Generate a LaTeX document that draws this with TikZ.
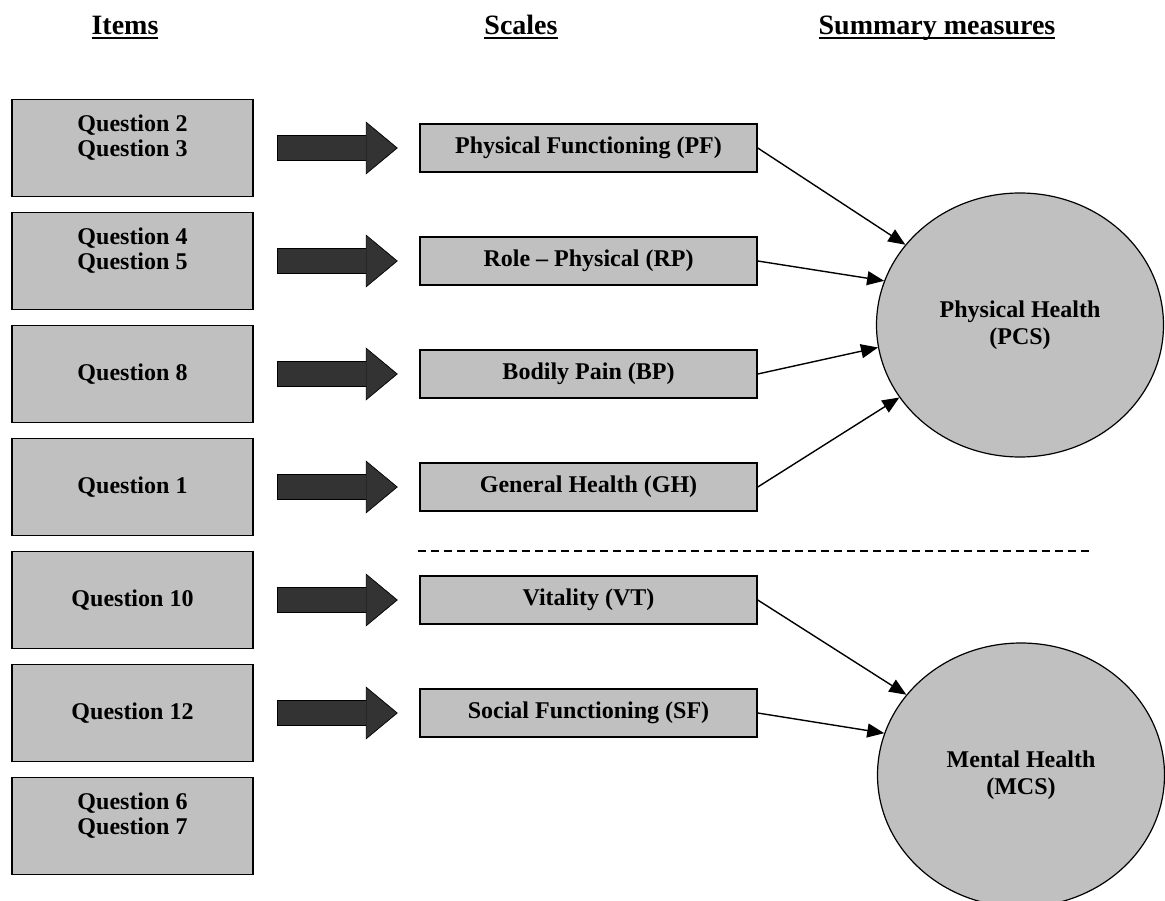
\documentclass[tikz,border=0pt]{standalone}
\usepackage{fontspec}
\setmainfont{Liberation Serif}
\usetikzlibrary{arrows.meta, positioning, shapes.geometric}
\definecolor{boxgray}{HTML}{C0C0C0}
\definecolor{arrowgray}{HTML}{333333}
\newcommand\hdrline[1]{\setbox0\hbox{#1}\rlap{\rule[-4pt]{\wd0}{1.8pt}}\box0}

\begin{document}
\begin{tikzpicture}[
        x=1pt, y=-1pt,
        every node/.style={font=\bfseries\fontsize{24}{25}\selectfont},
        item/.style={rectangle, draw, line width=1.5pt, fill=boxgray, minimum width=241pt, minimum height=97pt, inner sep=0pt, align=center},
        scalebox/.style={rectangle, draw, line width=1.5pt, fill=boxgray, minimum width=337pt, minimum height=48pt, inner sep=0pt},
        summary/.style={ellipse, draw, line width=1.2pt, fill=boxgray, minimum width=287pt, minimum height=264pt, inner sep=0pt, align=center, font=\bfseries\fontsize{24}{27}\selectfont},
        header/.style={anchor=base, inner sep=0pt, font=\bfseries\fontsize{28}{30}\selectfont},
        bigarrow/.style={draw=arrowgray, line width=24pt, shorten <=24pt, shorten >=23pt,
            preaction={draw=black, line width=26pt, shorten <=23pt, shorten >=21.5pt, -{Triangle[length=32pt, width=53pt, line width=0.5pt]}},
            -{Triangle[length=30pt, width=50pt, line width=0.5pt]}},
        link/.style={line width=1.4pt, -{Triangle[length=17pt, width=14pt]}}
    ]
        \useasboundingbox (0,0) rectangle (1165,901);

        \node[header] (hitems) at (125,35) {\hdrline{Items}};
        \node[header] (hscales) at (521,35) {\hdrline{Scales}};
        \node[header] (hsummary) at (937,35) {\hdrline{Summary measures}};

        % items
        \node[item] (q23) at (132.5,148) {Question 2\\Question 3\\\mbox{}};
        \node[item] (q45) at (132.5,261) {Question 4\\Question 5\\\mbox{}};
        \node[item] (q8) at (132.5,374) {Question 8};
        \node[item] (q1) at (132.5,487) {Question 1};
        \node[item] (q10) at (132.5,600) {Question 10};
        \node[item] (q12) at (132.5,713) {Question 12};
        \node[item] (q67) at (132.5,826) {Question 6\\Question 7\\\mbox{}};

        % scales
        \node[scalebox] (pf) at (588.5,148) {Physical Functioning (PF)};
        \node[scalebox] (rp) at (588.5,261) {Role -- Physical (RP)};
        \node[scalebox] (bp) at (588.5,374) {Bodily Pain (BP)};
        \node[scalebox] (gh) at (588.5,487) {General Health (GH)};
        \node[scalebox] (vt) at (588.5,600) {Vitality (VT)};
        \node[scalebox] (sf) at (588.5,713) {Social Functioning (SF)};

        \node[summary] (pcs) at (1020,325) {Physical Health\\(PCS)};
        \node[summary] (mcs) at (1021,775) {Mental Health\\(MCS)};

        \draw[bigarrow] (q23) -- (pf);
        \draw[bigarrow] (q45) -- (rp);
        \draw[bigarrow] (q8) -- (bp);
        \draw[bigarrow] (q1) -- (gh);
        \draw[bigarrow] (q10) -- (vt);
        \draw[bigarrow] (q12) -- (sf);

        \draw[link] (pf.east) -- (pcs.145);
        \draw[link] (rp.east) -- (pcs.162);
        \draw[link] (bp.east) -- (pcs.189);
        \draw[link] (gh.east) -- (pcs.211);
        \draw[link] (vt.east) -- (mcs.145);
        \draw[link] (sf.east) -- (mcs.163);

        \draw[line width=1.2pt, dash pattern=on 8pt off 5pt] (418,551) -- (1093,551);
    \end{tikzpicture}
\end{document}
